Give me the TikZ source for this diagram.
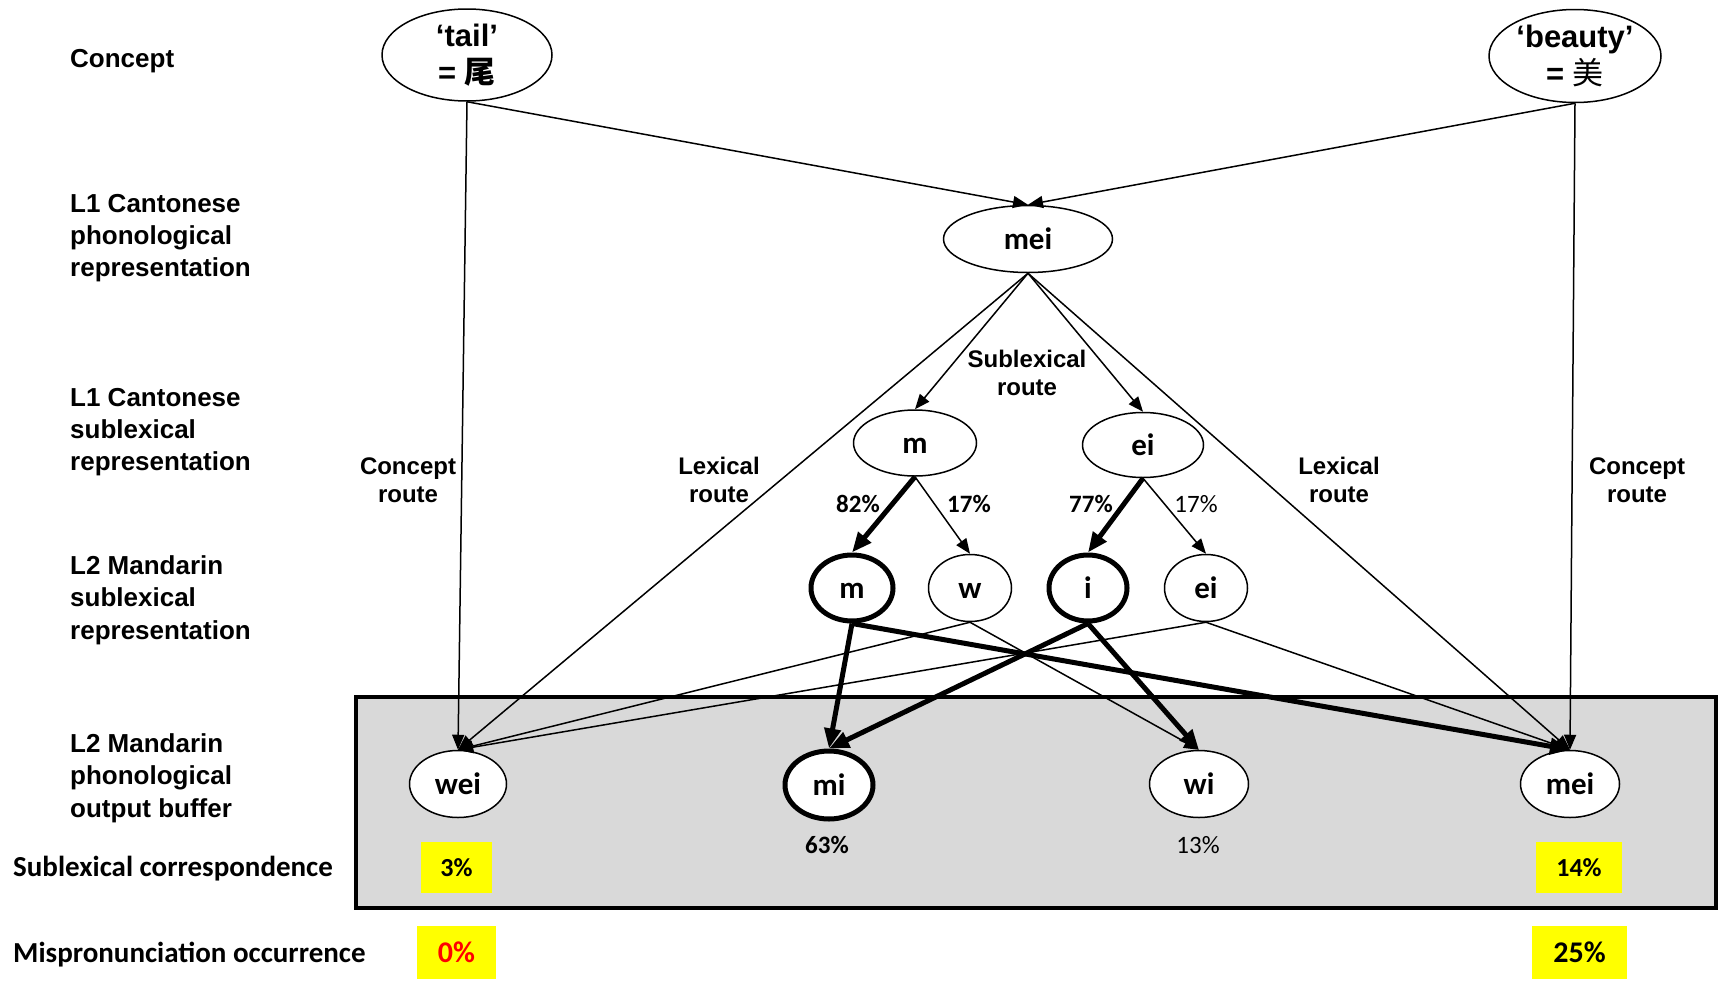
\documentclass[tikz,border=0pt]{standalone}
\usepackage{fontspec}
\setmainfont{Liberation Sans}
\newfontfamily\calfont{Carlito}
\newfontfamily\cjk{Noto Sans CJK SC}
\usetikzlibrary{shapes.geometric,arrows.meta}
\definecolor{boxgray}{HTML}{D9D9D9}
\definecolor{hiyellow}{HTML}{FFFF00}
\definecolor{hired}{HTML}{FF0000}
\begin{document}
\begin{tikzpicture}[x=1pt,y=-1pt,
  lab/.style={font=\bfseries\fontsize{26}{32.3}\selectfont, align=left, anchor=west, inner sep=0},
  clab/.style={font=\calfont\bfseries\fontsize{29}{34}\selectfont, anchor=west, inner sep=0},
  route/.style={font=\bfseries\fontsize{24}{28}\selectfont, align=center, inner sep=0},
  cnode/.style={ellipse, draw, line width=1.5pt, fill=white, inner sep=0, align=center,
    font=\bfseries\fontsize{31}{37}\selectfont},
  nd/.style={ellipse, draw, line width=1.5pt, fill=white, inner sep=0,
    text height=20pt, text depth=0pt,
    font=\calfont\bfseries\fontsize{31}{36}\selectfont},
  thk/.style={line width=5pt},
  pctb/.style={font=\calfont\bfseries\fontsize{25}{30}\selectfont, inner sep=0},
  pctr/.style={font=\calfont\fontsize{25}{30}\selectfont, inner sep=0},
  ybox/.style={fill=hiyellow, inner sep=0, font=\calfont\bfseries\fontsize{26}{30}\selectfont},
  ybig/.style={fill=hiyellow, inner sep=0, font=\calfont\bfseries\fontsize{30}{34}\selectfont},
  arr/.style={-{Triangle[length=15pt,width=12pt]}, line width=1.5pt},
  tarr/.style={-{Triangle[length=20pt,width=16pt]}, line width=5pt}
]
\useasboundingbox (0,0) rectangle (1719,980);
\draw[line width=4pt, fill=boxgray] (356,697) rectangle (1716,908);

% left labels
\node[lab] (lconcept) at (70,61) {Concept};
\node[lab] (lphon) at (70,238) {L1 Cantonese\\phonological\\representation};
\node[lab] (lsub) at (70,432) {L1 Cantonese\\sublexical\\representation};
\node[lab] (msub) at (70,600) {L2 Mandarin\\sublexical\\representation};
\node[lab] (mout) at (70,778) {L2 Mandarin\\phonological\\output buffer};
\node[clab] (lcorr) at (13,869) {Sublexical correspondence};
\node[clab] (lmis) at (13,955) {Mispronunciation occurrence};

% route labels
\node[route] (crL) at (408,480) {Concept\\route};
\node[route] (lrL) at (719,480) {Lexical\\route};
\node[route] (sr) at (1027,373) {Sublexical\\route};
\node[route] (lrR) at (1339,480) {Lexical\\route};
\node[route] (crR) at (1637,480) {Concept\\route};

% nodes
\node[cnode, minimum width=170, minimum height=92] (tail) at (467,55) {‘tail’\\= {\cjk 尾}};
\node[cnode, minimum width=172, minimum height=93] (beauty) at (1575,56) {‘beauty’\\= {\cjk\mdseries 美}};
\node[nd, minimum width=169, minimum height=67] (mei) at (1028,239) {mei};
\node[nd, minimum width=123, minimum height=66] (cm) at (915,443) {m};
\node[nd, minimum width=121, minimum height=65] (cei) at (1143,445) {ei};
\node[nd, thk, minimum width=82, minimum height=66] (mm) at (852,588) {m};
\node[nd, minimum width=83, minimum height=67] (mw) at (970,588) {w};
\node[nd, thk, minimum width=78, minimum height=66] (mi) at (1088,588) {i};
\node[nd, minimum width=83, minimum height=67] (mei2) at (1206,588) {ei};
\node[nd, minimum width=97, minimum height=67] (wei) at (458,784) {wei};
\node[nd, thk, minimum width=88, minimum height=68] (omi) at (829,785) {mi};
\node[nd, minimum width=99, minimum height=67] (wi) at (1199,784) {wi};
\node[nd, minimum width=99, minimum height=67] (bmei) at (1570,784) {mei};

% percentages
\node[pctb] (p82) at (858,504) {82\%};
\node[pctb] (p17a) at (969,504) {17\%};
\node[pctb] (p77) at (1091,504) {77\%};
\node[pctr] (p17b) at (1196,504) {17\%};
\node[pctb] (p63) at (827,845) {63\%};
\node[pctr] (p13) at (1198,845) {13\%};

\node[ybox, minimum width=71, minimum height=51] (y3) at (456.5,867.5) {3\%};
\node[ybox, minimum width=86, minimum height=51] (y14) at (1579,867.5) {14\%};
\node[ybig, minimum width=79, minimum height=53, text=hired] (y0) at (456.5,952.5) {0\%};
\node[ybig, minimum width=95, minimum height=53] (y25) at (1579.5,952.5) {25\%};

% connectors
\draw[arr] (tail.south) -- (mei.north);
\draw[arr] (beauty.south) -- (mei.north);
\draw[arr] (tail.south) -- (wei.north);
\draw[arr] (beauty.south) -- (bmei.north);
\draw[arr] (mei.south) -- (cm.north);
\draw[arr] (mei.south) -- (cei.north);
\draw[arr] (mei.south) -- (wei.north);
\draw[arr] (mei.south) -- (bmei.north);
\draw[tarr] (cm.south) -- (mm.north);
\draw[arr] (cm.south) -- (mw.north);
\draw[tarr] (cei.south) -- (mi.north);
\draw[arr] (cei.south) -- (mei2.north);
\draw[tarr] (mm.south) -- (omi.north);
\draw[tarr] (mm.south) -- (bmei.north);
\draw[arr] (mw.south) -- (wei.north);
\draw[arr] (mw.south) -- (wi.north);
\draw[tarr] (mi.south) -- (omi.north);
\draw[tarr] (mi.south) -- (wi.north);
\draw[arr] (mei2.south) -- (wei.north);
\draw[arr] (mei2.south) -- (bmei.north);
\end{tikzpicture}
\end{document}
